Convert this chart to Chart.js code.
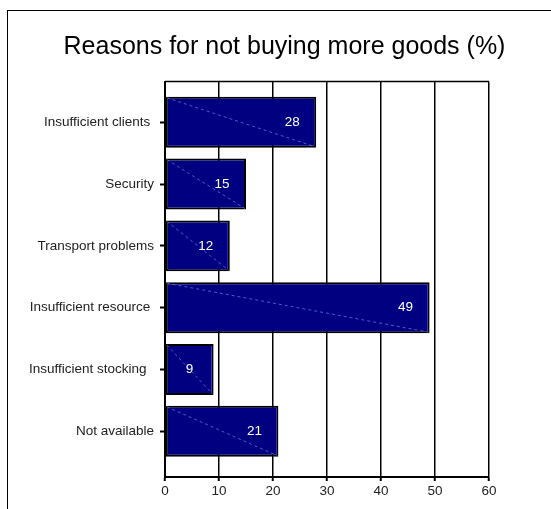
<!DOCTYPE html>
<html>
<head>
<meta charset="utf-8">
<title>Reasons for not buying more goods</title>
<script src="https://cdn.jsdelivr.net/npm/chart.js@4"></script>
<style>
    html, body { margin: 0; padding: 0; background: #fff; }
    #wrap { position: relative; width: 551px; height: 509px; overflow: hidden; }
    #frame { position: absolute; left: 7px; top: 10px; right: -2px; bottom: -2px;
             border-top: 1.5px solid #000; border-left: 1.5px solid #000; }
    canvas { position: absolute; left: 0; top: 0; }
</style>
</head>
<body>
<div id="wrap">
    <div id="frame"></div>
    <canvas id="reasons-chart" width="551" height="509"></canvas>
</div>
<script>
// Survey answers (trailing spaces kept as they were typed in the sheet)
const reasons = [
    'Insufficient clients ',
    'Security',
    'Transport problems',
    'Insufficient resource ',
    'Insufficient stocking  ',
    'Not available',
];
const percentages = [28, 15, 12, 49, 9, 21];
const xTicks = [0, 10, 20, 30, 40, 50, 60];

const FONT = "'Liberation Sans', Arial, Helvetica, sans-serif";

// Thin dashed diagonal across each bar plus the white value label near its end
const barDecor = {
    id: 'barDecor',
    afterDatasetsDraw(chart) {
        const ctx = chart.ctx;
        const meta = chart.getDatasetMeta(0);
        meta.data.forEach((bar, i) => {
            const { x, y, base, height } = bar.getProps(['x', 'y', 'base', 'height'], true);
            const top = y - height / 2;
            const bottom = y + height / 2;

            ctx.save();
            ctx.beginPath();
            ctx.rect(base, top, x - base, height);
            ctx.clip();
            ctx.strokeStyle = 'rgba(110, 130, 235, 0.7)';
            ctx.lineWidth = 1;
            ctx.setLineDash([3, 3]);
            ctx.beginPath();
            ctx.moveTo(base + 1, top + 1);
            ctx.lineTo(x - 1, bottom - 1);
            ctx.stroke();
            ctx.restore();

            ctx.save();
            ctx.fillStyle = '#fff';
            ctx.font = `13.5px ${FONT}`;
            ctx.textAlign = 'center';
            ctx.textBaseline = 'middle';
            ctx.fillText(String(percentages[i]), x - 24, y);
            ctx.restore();
        });
    },
};

// Top edge of the plot frame
const plotTopBorder = {
    id: 'plotTopBorder',
    beforeDatasetsDraw(chart) {
        const { ctx, chartArea } = chart;
        ctx.save();
        ctx.strokeStyle = '#000';
        ctx.lineWidth = 1.5;
        ctx.beginPath();
        ctx.moveTo(chartArea.left, chartArea.top);
        ctx.lineTo(chartArea.right, chartArea.top);
        ctx.stroke();
        ctx.restore();
    },
};

const ctx = document.getElementById('reasons-chart').getContext('2d');
new Chart(ctx, {
    type: 'bar',
    data: {
        datasets: [{
            data: reasons.map((_, i) => ({ x: percentages[i], y: i })),
            backgroundColor: '#000080',
            borderColor: '#000',
            borderWidth: 2,
            borderSkipped: false,
            categoryPercentage: 1,
            barPercentage: 0.825,
        }],
    },
    options: {
        indexAxis: 'y',
        responsive: false,
        animation: false,
        devicePixelRatio: 1,
        layout: { padding: { left: 18, right: 0, top: 0, bottom: 0 } },
        plugins: {
            legend: { display: false },
            tooltip: { enabled: false },
            title: {
                display: true,
                text: 'Reasons for not buying more goods (%)',
                color: '#000',
                font: { family: FONT, size: 25, weight: 'normal', lineHeight: 1.2 },
                padding: { top: 32, bottom: 19.5 },
            },
        },
        scales: {
            x: {
                type: 'linear',
                position: 'bottom',
                bounds: 'data',
                min: 0,
                max: 60,
                afterBuildTicks: (scale) => { scale.ticks = xTicks.map(v => ({ value: v })); },
                afterFit: (scale) => { scale.height = 32; },
                ticks: {
                    color: '#222',
                    font: { family: FONT, size: 13.5 },
                    padding: 2,
                },
                grid: {
                    color: '#000',
                    lineWidth: 1.5,
                    tickLength: 4,
                    tickColor: '#000',
                    tickWidth: 2,
                },
                border: { color: '#000', width: 2 },
            },
            y: {
                type: 'linear',
                reverse: true,
                bounds: 'data',
                offset: false,
                min: -0.66,
                max: 5.74,
                afterBuildTicks: (scale) => { scale.ticks = reasons.map((_, i) => ({ value: i })); },
                afterFit: (scale) => { scale.width = 147; },
                ticks: {
                    color: '#222',
                    font: { family: FONT, size: 13.5 },
                    padding: 6,
                    callback: (value) => reasons[value],
                },
                grid: {
                    offset: false,
                    drawOnChartArea: false,
                    tickLength: 5,
                    tickColor: '#000',
                    tickWidth: 2,
                },
                border: { color: '#000', width: 2 },
            },
            // empty right-hand axis that only reserves the margin beside the plot
            margin: {
                type: 'linear',
                position: 'right',
                afterFit: (scale) => { scale.width = 62; },
                ticks: { display: false },
                grid: { display: false },
                border: { display: false },
            },
        },
    },
    plugins: [barDecor, plotTopBorder],
});
</script>
</body>
</html>
